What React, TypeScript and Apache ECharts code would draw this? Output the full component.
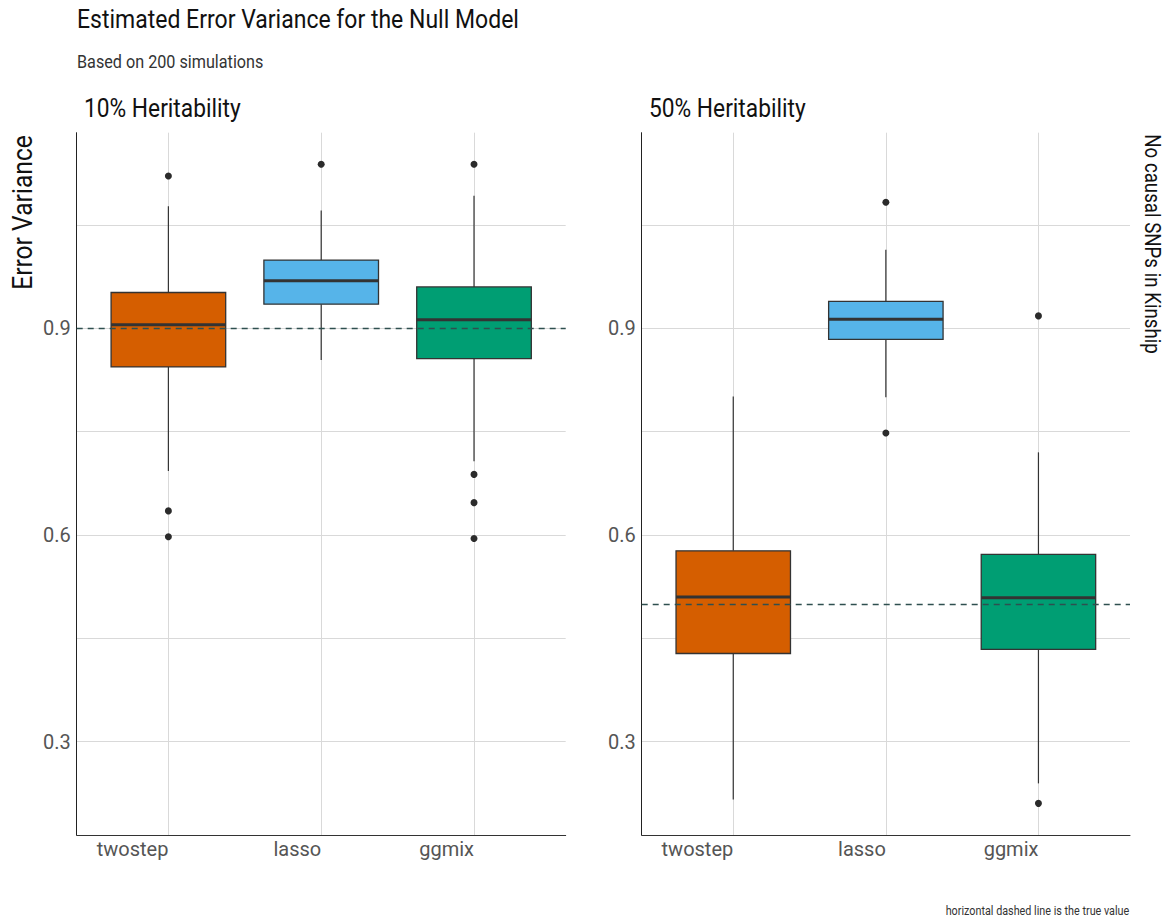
import React, { useEffect, useRef } from 'react';
import * as echarts from 'echarts';

const categories = ['twostep', 'lasso', 'ggmix'];
const panelTitles = ['10% Heritability', '50% Heritability'];
const boxColors = ['#D55E00', '#56B4E9', '#009E73'];

// [lower whisker, Q1, median, Q3, upper whisker] per category
const boxes10 = [
  [0.693, 0.844, 0.905, 0.952, 1.077],
  [0.854, 0.935, 0.969, 0.999, 1.071],
  [0.707, 0.856, 0.9125, 0.960, 1.0925],
];
const boxes50 = [
  [0.216, 0.428, 0.510, 0.577, 0.801],
  [0.800, 0.884, 0.913, 0.939, 1.014],
  [0.2395, 0.434, 0.509, 0.572, 0.720],
];
// [category index, value]
const outliers10 = [
  [0, 1.121], [0, 0.635], [0, 0.5975],
  [1, 1.138],
  [2, 1.138], [2, 0.688], [2, 0.647], [2, 0.595],
];
const outliers50 = [
  [1, 1.083], [1, 0.748],
  [2, 0.918], [2, 0.2105],
];
const trueValues = [0.9, 0.5];

const yLabelTicks = [0.3, 0.6, 0.9];
const yGridTicks = [0.3, 0.45, 0.6, 0.75, 0.9, 1.05];
const xTicks = [0, 1, 2];
const yMin = 0.1646;
const yMax = 1.1839;

const FONT = 'Roboto';
const SQ = 0.88; // condensed look

function makeText(text: string, x: number, y: number, size: number, opts: any = {}) {
  return {
    type: 'text',
    x,
    y,
    scaleX: opts.scaleX ?? SQ,
    rotation: opts.rotation ?? 0,
    silent: true,
    style: {
      text,
      fontSize: size,
      fontFamily: FONT,
      fontWeight: opts.weight ?? 'normal',
      fill: opts.color ?? '#111',
      align: opts.align ?? 'left',
      textAlign: opts.align ?? 'left',
      verticalAlign: 'middle',
      textVerticalAlign: 'middle',
    },
  };
}

export default function App() {
  const ref = useRef<HTMLDivElement>(null);

  useEffect(() => {
    if (!ref.current) return;
    const chart = echarts.init(ref.current, undefined, { renderer: 'svg' });

    const grids = [
      { left: 76.7, top: 132.7, width: 489, height: 702.3 },
      { left: 641.7, top: 132.7, width: 488.3, height: 702.3 },
    ];

    const xAxes = grids.map((_, i) => ({
      type: 'value',
      gridIndex: i,
      min: -0.6,
      max: 2.6,
      axisLine: { show: true, onZero: false, lineStyle: { color: '#333', width: 1 } },
      axisTick: { show: false, customValues: xTicks },
      axisLabel: {
        customValues: xTicks,
        formatter: (v: number) => categories[Math.round(v)] ?? '',
        align: 'right',
        fontSize: 20,
        fontFamily: FONT,
        color: '#555',
        margin: 4,
      },
      splitLine: { show: true, lineStyle: { color: '#d9d9d9', width: 1 } },
    }));

    const yAxes = grids.map((_, i) => ({
      type: 'value',
      gridIndex: i,
      min: yMin,
      max: yMax,
      axisLine: { show: true, onZero: false, lineStyle: { color: '#222', width: 1 } },
      axisTick: { show: false, customValues: yGridTicks },
      axisLabel: {
        customValues: yLabelTicks,
        formatter: (v: number) => v.toFixed(1),
        fontSize: 20,
        fontFamily: FONT,
        color: '#555',
        margin: 6,
      },
      splitLine: { show: true, lineStyle: { color: '#d9d9d9', width: 1 } },
    }));

    const allBoxes = [boxes10, boxes50];
    const allOutliers = [outliers10, outliers50];

    const series: any[] = [];
    allBoxes.forEach((boxes, i) => {
      series.push({
        type: 'custom',
        xAxisIndex: i,
        yAxisIndex: i,
        z: 2,
        data: boxes.map((b, k) => [k, ...b]),
        encode: { x: 0, y: [1, 2, 3, 4, 5] },
        renderItem: (params: any, api: any) => {
          const x = api.value(0);
          const lw = api.coord([x, api.value(1)]);
          const q1 = api.coord([x, api.value(2)]);
          const md = api.coord([x, api.value(3)]);
          const q3 = api.coord([x, api.value(4)]);
          const uw = api.coord([x, api.value(5)]);
          const half = api.size([0.75, 0])[0] / 2;
          const cx = lw[0];
          const stroke = '#333333';
          return {
            type: 'group',
            children: [
              { type: 'line', shape: { x1: cx, y1: uw[1], x2: cx, y2: q3[1] }, style: { stroke, lineWidth: 1.2 } },
              { type: 'line', shape: { x1: cx, y1: q1[1], x2: cx, y2: lw[1] }, style: { stroke, lineWidth: 1.2 } },
              {
                type: 'rect',
                shape: { x: cx - half, y: q3[1], width: half * 2, height: q1[1] - q3[1] },
                style: { fill: boxColors[params.dataIndex], stroke, lineWidth: 1.3 },
              },
              { type: 'line', shape: { x1: cx - half, y1: md[1], x2: cx + half, y2: md[1] }, style: { stroke, lineWidth: 3 } },
            ],
          };
        },
      });
      series.push({
        type: 'scatter',
        xAxisIndex: i,
        yAxisIndex: i,
        z: 3,
        symbol: 'circle',
        symbolSize: 7,
        itemStyle: { color: '#2b2b2b', opacity: 1 },
        data: allOutliers[i],
        markLine: {
          silent: true,
          symbol: ['none', 'none'],
          label: { show: false },
          lineStyle: { color: '#2F4F4F', type: [6, 5], width: 1.3, opacity: 1 },
          data: [{ yAxis: trueValues[i] }],
          z: 5,
        },
      });
    });

    const graphic: any[] = [
      makeText('Estimated Error Variance for the Null Model', 77, 19.8, 25, { color: '#111', scaleX: 0.92 }),
      makeText('Based on 200 simulations', 77, 61.2, 18, { color: '#333', scaleX: 0.9 }),
      makeText(panelTitles[0], 84, 109, 25, { color: '#111', scaleX: 0.91 }),
      makeText(panelTitles[1], 649, 109, 25, { color: '#111', scaleX: 0.91 }),
      makeText('Error Variance', 22.5, 212.5, 28, { color: '#111', rotation: Math.PI / 2, align: 'center' }),
      makeText('No causal SNPs in Kinship', 1153, 244, 22, { color: '#111', rotation: -Math.PI / 2, align: 'center', scaleX: 0.85 }),
      makeText('horizontal dashed line is the true value', 1129.3, 911, 12, { color: '#333', align: 'right', scaleX: 0.9 }),
    ];

    chart.setOption({
      animation: false,
      backgroundColor: '#ffffff',
      grid: grids,
      xAxis: xAxes,
      yAxis: yAxes,
      series,
      graphic,
    });

    return () => chart.dispose();
  }, []);

  return <div ref={ref} style={{ position: 'fixed', left: 0, top: 0, width: 1169, height: 922 }} />;
}
